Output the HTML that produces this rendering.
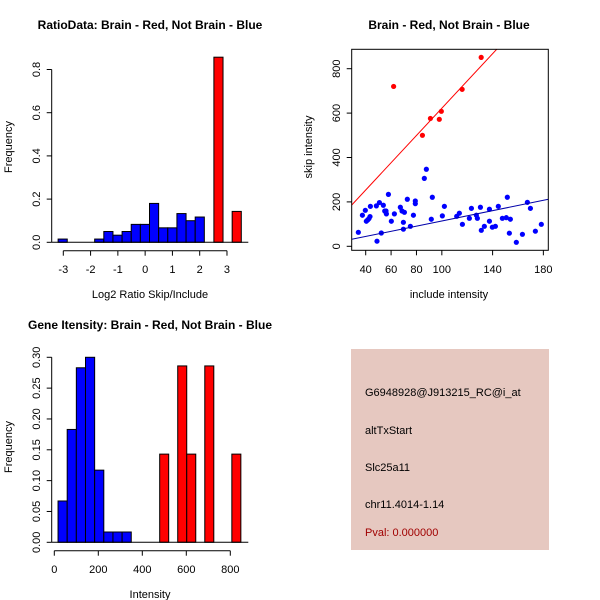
<!DOCTYPE html>
<html><head><meta charset="utf-8"><style>
html,body{margin:0;padding:0;background:#fff;}
svg{display:block;font-family:"Liberation Sans",sans-serif;}
</style></head><body>
<svg id="c" width="600" height="600" viewBox="0 0 600 600">
<rect width="600" height="600" fill="#fff"/>
<text x="150" y="29" text-anchor="middle" font-size="12" font-weight="bold">RatioData: Brain - Red, Not Brain - Blue</text>
<text x="449" y="29" text-anchor="middle" font-size="12" font-weight="bold">Brain - Red, Not Brain - Blue</text>
<text x="150" y="329" text-anchor="middle" font-size="12" font-weight="bold">Gene Itensity: Brain - Red, Not Brain - Blue</text>
<text x="150" y="298" text-anchor="middle" font-size="11">Log2 Ratio Skip/Include</text>
<text transform="translate(12,147) rotate(-90)" text-anchor="middle" font-size="11">Frequency</text>
<text x="449" y="298" text-anchor="middle" font-size="11">include intensity</text>
<text transform="translate(312,147) rotate(-90)" text-anchor="middle" font-size="11">skip intensity</text>
<text x="150" y="598" text-anchor="middle" font-size="11">Intensity</text>
<text transform="translate(12,447) rotate(-90)" text-anchor="middle" font-size="11">Frequency</text>
<rect x="351" y="349" width="198" height="201" fill="#e6c8c0"/>
<text x="365" y="396" font-size="11">G6948928@J913215_RC@i_at</text>
<text x="365" y="434" font-size="11">altTxStart</text>
<text x="365" y="471" font-size="11">Slc25a11</text>
<text x="365" y="508" font-size="11">chr11.4014-1.14</text>
<text x="365" y="536" font-size="11" fill="#a00000">Pval: 0.000000</text>
<g id="g"></g>
</svg>
<script>
// Ratio histogram
const ratioBlueStart = -3.19, ratioBinW = 0.335;
const ratioBlue = [0.015,0,0,0,0.015,0.05,0.033,0.05,0.083,0.083,0.18,0.067,0.067,0.133,0.1,0.117];
const ratioRedStarts = [2.52, 3.19];
const ratioRed = [0.857, 0.143];
const ratioXTicks = [-3,-2,-1,0,1,2,3];
const ratioYTicks = ["0.0","0.2","0.4","0.6","0.8"];
// Scatter
const redX = [62,84.7,91,98,99.6,116,131];
const redY = [720,500,576,572,608,707,851];
const blueX = [34.2,37.4,39.7,40.5,41.6,42.6,43.4,43.7,48.4,50.8,48.9,52.3,53.9,55,56,56.3,57.9,60.2,62.6,67.3,68.6,69.7,69.7,70.5,72.8,75.2,77.6,79.1,79.1,86.2,87.8,91.7,92.5,100.4,102,111.7,113.8,116.2,121.7,123.3,127.2,128,130.4,131.1,133.5,137.5,137.5,139.8,142.2,144.5,147.7,150.8,151.6,153.2,154,158.7,163.5,167.4,169.8,173.7,178.4];
const blueY = [63,140,162,113,119,125,134,180,182,197,23,60,185,159,159,146,234,113,146,176,159,108,77,153,212,90,140,204,192,306,347,122,221,137,180,135,149,99,126,171,140,126,176,72,90,167,113,86,90,180,126,129,221,59,122,18,54,198,171,68,99];
const fitIntercepts = [8, -2.2];
const fitSlopes = [6.14, 1.163];
const scXTicks = [40,60,80,100,140,180];
const scYTicks = [0,200,400,600,800];
// Intensity histogram
const intBlueStart = 17, intBinW = 41.6;
const intBlue = [0.067,0.183,0.283,0.30,0.117,0.0167,0.0167,0.0167];
const intRedStart = 479, intRedW = 41;
const intRed = [0.143,0,0.286,0.143,0,0.286,0,0,0.143];
const intXTicks = [0,200,400,600,800];
const intYTicks = ["0.00","0.05","0.10","0.15","0.20","0.25","0.30"];

const NS="http://www.w3.org/2000/svg", G=document.getElementById('g');
function mk(t,a){const e=document.createElementNS(NS,t);for(const k in a)e.setAttribute(k,a[k]);G.appendChild(e);return e;}
function line(x1,y1,x2,y2,col,name){const e=mk('line',{x1,y1,x2,y2,stroke:col||'#000','stroke-width':1});

return e;}
function txt(s,x,y,rot,name){const e=mk('text',{'font-size':11,'text-anchor':'middle'});
if(rot){e.setAttribute('transform','translate('+x+','+y+') rotate(-90)');}else{e.setAttribute('x',x);e.setAttribute('y',y);}
e.textContent=s;

return e;}
function bar(x0,x1,v,sy,fill,name){const y=sy(v),y0=sy(0);if(v<=0)return;
const e=mk('rect',{x:Math.min(x0,x1),y:y,width:Math.abs(x1-x0),height:y0-y,fill:fill,stroke:'#000','stroke-width':1});

}

// Panel 1
{const sx=v=>63.3+(v+3)*27.28, sy=v=>242.3-v*216;
ratioBlue.forEach((v,i)=>bar(sx(ratioBlueStart+i*ratioBinW),sx(ratioBlueStart+(i+1)*ratioBinW),v,sy,'#0000ff','ratio-bar-blue'));
ratioRed.forEach((v,i)=>bar(sx(ratioRedStarts[i]),sx(ratioRedStarts[i]+ratioBinW),v,sy,'#ff0000','ratio-bar-red'));
line(51.7,sy(0),248.3,sy(0),'#000','ratio-baseline');
line(sx(-3),250.7,sx(3),250.7,'#000','ratio-x-axis');
ratioXTicks.forEach(t=>{line(sx(t),250.7,sx(t),255.7,'#000','ratio-x-tick');txt(String(t).replace('-','-'),sx(t),273,false,'ratio-x-tick-label');});
line(51.7,sy(0),51.7,sy(0.8),'#000','ratio-y-axis');
ratioYTicks.forEach(t=>{const y=sy(parseFloat(t));line(46.7,y,51.7,y,'#000','ratio-y-tick');txt(t,40,y,true,'ratio-y-tick-label');});}

// Panel 2
{const sx=v=>365.7+(v-40)*1.269, sy=v=>246.3-v*0.222;
const L=351.7,R=548.3,T=49.3,B=250.3;
const cp=mk('clipPath',{id:'cl'});const cr=document.createElementNS(NS,'rect');
cr.setAttribute('x',L);cr.setAttribute('y',T);cr.setAttribute('width',R-L);cr.setAttribute('height',B-T);cp.appendChild(cr);
blueX.forEach((x,i)=>{const e=mk('circle',{cx:sx(x),cy:sy(blueY[i]),r:2.6,fill:'#0000ff'});

});
redX.forEach((x,i)=>{const e=mk('circle',{cx:sx(x),cy:sy(redY[i]),r:2.6,fill:'#ff0000'});

});
const cols=['#ff0000','#0000aa'];
fitIntercepts.forEach((a,i)=>{const x0=29,x1=184;const e=line(sx(x0),sy(a+fitSlopes[i]*x0),sx(x1),sy(a+fitSlopes[i]*x1),cols[i],i?'blue-fit-line':'red-fit-line');e.setAttribute('clip-path','url(#cl)');});
const bx=mk('rect',{x:L,y:T,width:R-L,height:B-T,fill:'none',stroke:'#000'});


scXTicks.forEach(t=>{line(sx(t),B,sx(t),B+5,'#000','scatter-x-tick');txt(String(t),sx(t),273,false,'scatter-x-tick-label');});
scYTicks.forEach(t=>{line(L-5,sy(t),L,sy(t),'#000','scatter-y-tick');txt(String(t),340,sy(t),true,'scatter-y-tick-label');});}

// Panel 3
{const sx=v=>54.3+v*0.22, sy=v=>542.3-v*616.7;
intBlue.forEach((v,i)=>bar(sx(intBlueStart+i*intBinW),sx(intBlueStart+(i+1)*intBinW),v,sy,'#0000ff','intensity-bar-blue'));
intRed.forEach((v,i)=>bar(sx(intRedStart+i*intRedW),sx(intRedStart+(i+1)*intRedW),v,sy,'#ff0000','intensity-bar-red'));
line(51.7,sy(0),248.3,sy(0),'#000','intensity-baseline');
line(sx(0),550.7,sx(800),550.7,'#000','intensity-x-axis');
intXTicks.forEach(t=>{line(sx(t),550.7,sx(t),555.7,'#000','intensity-x-tick');txt(String(t),sx(t),573,false,'intensity-x-tick-label');});
line(51.7,sy(0),51.7,sy(0.3),'#000','intensity-y-axis');
intYTicks.forEach(t=>{const y=sy(parseFloat(t));line(46.7,y,51.7,y,'#000','intensity-y-tick');txt(t,40,y,true,'intensity-y-tick-label');});}
</script>
</body></html>
